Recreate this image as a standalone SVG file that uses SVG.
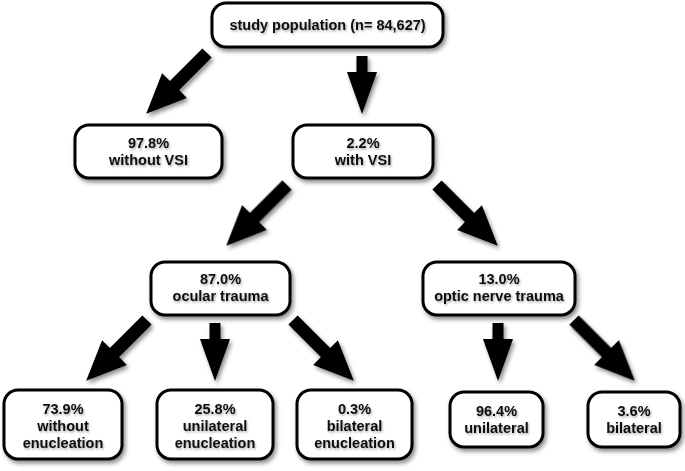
<svg xmlns="http://www.w3.org/2000/svg" xmlns:xlink="http://www.w3.org/1999/xlink" width="685" height="471" viewBox="0 0 685 471">
  <defs>
    <filter id="sh" x="-20%" y="-20%" width="140%" height="150%">
      <feDropShadow dx="2" dy="3" stdDeviation="2" flood-color="#000" flood-opacity="0.45"/>
    </filter>
    <filter id="tsh" x="-10%" y="-30%" width="120%" height="160%">
      <feDropShadow dx="1" dy="1.5" stdDeviation="1" flood-color="#000" flood-opacity="0.35"/>
    </filter>
    <path id="diag" d="M0,-6.5 L46,-6.5 L46,-17.5 L86,0 L46,17.5 L46,6.5 L0,6.5 Z"/>
    <path id="down" d="M-5.5,0 L5.5,0 L5.5,16 L15,16 L0,58 L-15,16 L-5.5,16 Z"/>
  </defs>
  <style>
    .box { fill: #fff; stroke: #000; stroke-width: 3; }
    .node { filter: url(#sh); }
    .lbl { font-family: "Liberation Sans", Arial, sans-serif; font-weight: bold; font-size: 14.5px; text-anchor: middle; fill: #111; filter: url(#tsh); }
    .arrow { fill: #000; }
  </style>

  <g id="connectors" filter="url(#sh)">
    <use href="#diag" class="arrow" transform="translate(207,53) rotate(135)"/>
    <use href="#down" class="arrow" transform="translate(362,56)"/>
    <use href="#diag" class="arrow" transform="translate(287,185) rotate(135)"/>
    <use href="#diag" class="arrow" transform="translate(437,185) rotate(45)"/>
    <use href="#diag" class="arrow" transform="translate(147,320) rotate(135)"/>
    <use href="#down" class="arrow" transform="translate(215,323)"/>
    <use href="#diag" class="arrow" transform="translate(293,320) rotate(45)"/>
    <use href="#down" class="arrow" transform="translate(498,323)"/>
    <use href="#diag" class="arrow" transform="translate(574,320) rotate(45)"/>
  </g>

  <g id="n-study">
    <rect class="box node" x="212" y="3" width="231" height="44" rx="14"/>
    <text class="lbl" x="327.5" y="30">study population (n= 84,627)</text>
  </g>
  <g id="n-without-vsi">
    <rect class="box node" x="75" y="125" width="147" height="53" rx="14"/>
    <text class="lbl" x="148.5" y="148">97.8%</text>
    <text class="lbl" x="148.5" y="165">without VSI</text>
  </g>
  <g id="n-with-vsi">
    <rect class="box node" x="293" y="125" width="140" height="53" rx="14"/>
    <text class="lbl" x="363" y="148">2.2%</text>
    <text class="lbl" x="363" y="165">with VSI</text>
  </g>
  <g id="n-ocular">
    <rect class="box node" x="151" y="262" width="139" height="53" rx="14"/>
    <text class="lbl" x="220.5" y="284">87.0%</text>
    <text class="lbl" x="220.5" y="301">ocular trauma</text>
  </g>
  <g id="n-optic">
    <rect class="box node" x="423" y="262" width="152" height="53" rx="14"/>
    <text class="lbl" x="499" y="284">13.0%</text>
    <text class="lbl" x="499" y="301">optic nerve trauma</text>
  </g>
  <g id="n-without-enuc">
    <rect class="box node" x="4" y="390" width="118" height="69" rx="14"/>
    <text class="lbl" x="63" y="414">73.9%</text>
    <text class="lbl" x="63" y="431">without</text>
    <text class="lbl" x="63" y="448">enucleation</text>
  </g>
  <g id="n-unilat-enuc">
    <rect class="box node" x="157" y="390" width="116" height="69" rx="14"/>
    <text class="lbl" x="215" y="414">25.8%</text>
    <text class="lbl" x="215" y="431">unilateral</text>
    <text class="lbl" x="215" y="448">enucleation</text>
  </g>
  <g id="n-bilat-enuc">
    <rect class="box node" x="297" y="390" width="115" height="69" rx="14"/>
    <text class="lbl" x="354.5" y="414">0.3%</text>
    <text class="lbl" x="354.5" y="431">bilateral</text>
    <text class="lbl" x="354.5" y="448">enucleation</text>
  </g>
  <g id="n-unilat">
    <rect class="box node" x="450" y="392" width="93" height="55" rx="14"/>
    <text class="lbl" x="496.5" y="416">96.4%</text>
    <text class="lbl" x="496.5" y="433">unilateral</text>
  </g>
  <g id="n-bilat">
    <rect class="box node" x="588" y="392" width="92" height="55" rx="14"/>
    <text class="lbl" x="634" y="416">3.6%</text>
    <text class="lbl" x="634" y="433">bilateral</text>
  </g>
</svg>
